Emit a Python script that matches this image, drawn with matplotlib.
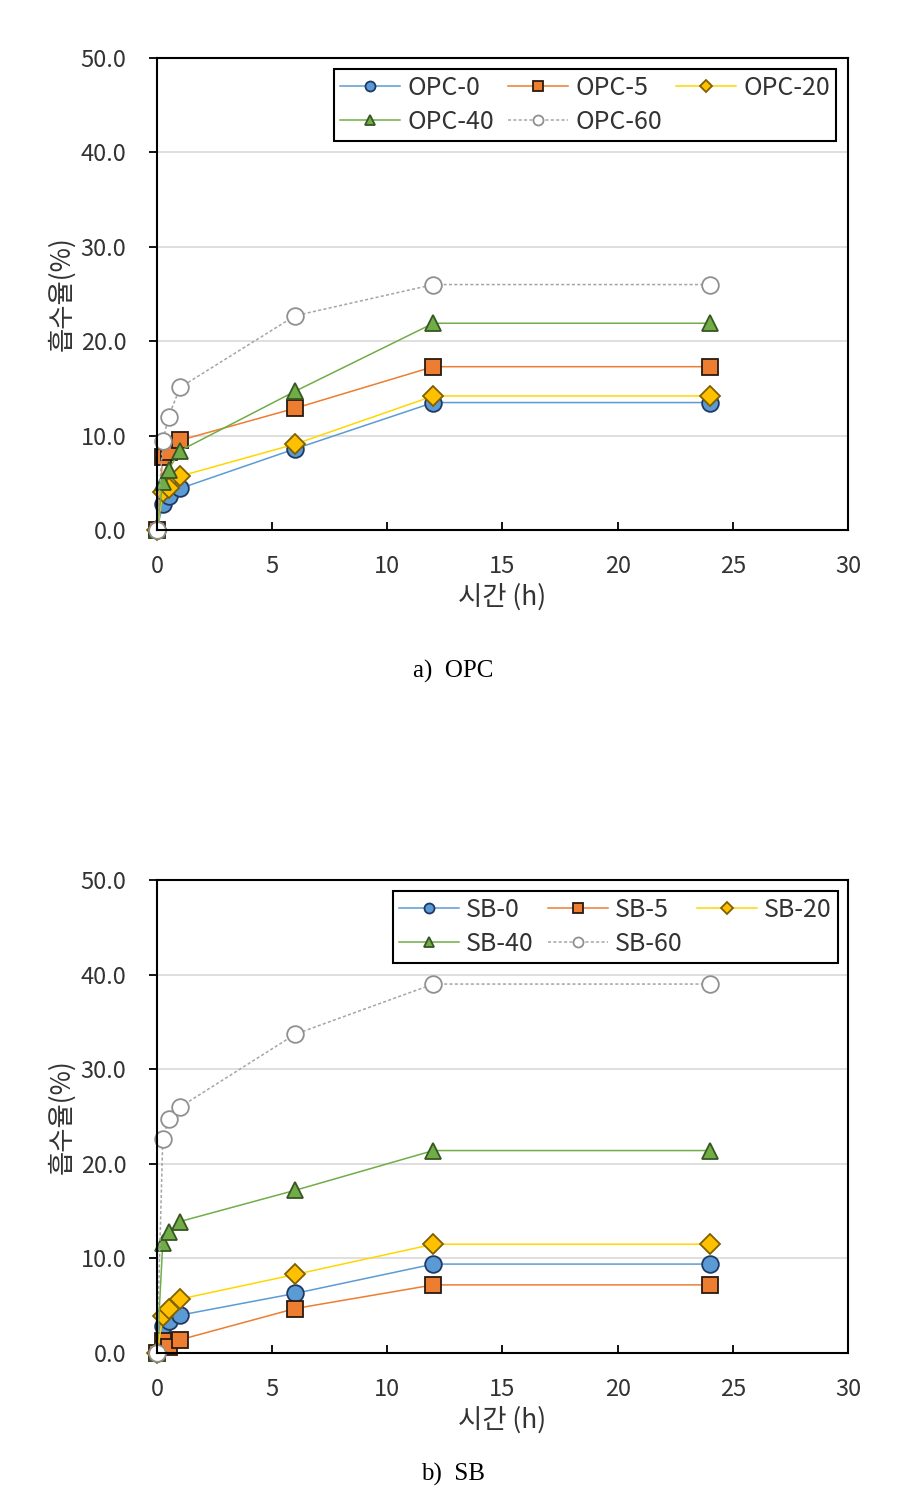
import matplotlib
matplotlib.use("Agg")
import matplotlib.pyplot as plt

plt.rcParams['font.family'] = ['Noto Sans CJK KR', 'DejaVu Sans']

times = [0, 0.25, 0.5, 1, 6, 12, 24]

opc_labels = ['OPC-0', 'OPC-5', 'OPC-20', 'OPC-40', 'OPC-60']
opc_0 = [0, 2.8, 3.6, 4.4, 8.6, 13.5, 13.5]
opc_5 = [0, 7.7, 8.3, 9.5, 12.9, 17.3, 17.3]
opc_20 = [0, 4.0, 4.5, 5.7, 9.1, 14.2, 14.2]
opc_40 = [0, 5.1, 6.4, 8.4, 14.7, 21.9, 21.9]
opc_60 = [0, 9.4, 12.0, 15.1, 22.7, 26.0, 26.0]

sb_labels = ['SB-0', 'SB-5', 'SB-20', 'SB-40', 'SB-60']
sb_0 = [0, 2.9, 3.4, 4.0, 6.3, 9.4, 9.4]
sb_5 = [0, 1.3, 0.6, 1.4, 4.7, 7.2, 7.2]
sb_20 = [0, 3.9, 4.6, 5.7, 8.3, 11.5, 11.5]
sb_40 = [0, 11.6, 12.8, 13.9, 17.2, 21.4, 21.4]
sb_60 = [0, 22.6, 24.7, 26.0, 33.7, 39.0, 39.0]

x_ticks = [0, 5, 10, 15, 20, 25, 30]
y_ticks = [0, 10, 20, 30, 40, 50]
x_label = '시간 (h)'
y_label = '흡수율(%)'

styles = [
    dict(color='#5B9BD5', marker='o', mfc='#5B9BD5', mec='#1F3864', ls='-', ms=12),
    dict(color='#ED7D31', marker='s', mfc='#ED7D31', mec='#2a1a10', ls='-', ms=11),
    dict(color='#FFD700', marker='D', mfc='#FFC000', mec='#7F6000', ls='-', ms=10),
    dict(color='#70AD47', marker='^', mfc='#70AD47', mec='#375623', ls='-', ms=12),
    dict(color='#A5A5A5', marker='o', mfc='white', mec='#909090', ls=(0, (2, 1.5)), ms=12),
]

fig = plt.figure(figsize=(9.08, 14.97), dpi=100)
W, H = 908, 1497


def make_axes(top_px, bottom_px):
    left, right = 157, 848
    return fig.add_axes([left / W, 1 - bottom_px / H, (right - left) / W, (bottom_px - top_px) / H])


def draw(ax, series, labels, legend_box):
    handles = []
    for ys, lab, st in zip(series, labels, styles):
        h, = ax.plot(times, ys, color=st['color'], marker=st['marker'], mfc=st['mfc'],
                     mec=st['mec'], mew=1.3, ms=st['ms'], ls=st['ls'], lw=1.1, label=lab)
        handles.append(h)
    ax.set_xlim(0, 30)
    ax.set_ylim(0, 50)
    ax.set_xticks(x_ticks)
    ax.set_yticks(y_ticks)
    ax.set_yticklabels([f'{v:.1f}' for v in y_ticks])
    ax.set_xticklabels([str(v) for v in x_ticks])
    ax.yaxis.grid(True, color='#D9D9D9', lw=1.2)
    ax.set_axisbelow(True)
    for sp in ax.spines.values():
        sp.set_color('black')
        sp.set_linewidth(1.5)
    ax.tick_params(axis='x', direction='in', length=6, width=1.3, labelsize=17, pad=18, colors='black')
    ax.tick_params(axis='y', direction='out', length=6, width=1.3, labelsize=17, pad=16)
    for lab in ax.get_xticklabels() + ax.get_yticklabels():
        lab.set_color('#333333')
    ax.set_xlabel(x_label, fontsize=19, color='#333333', labelpad=4)
    ax.set_ylabel(y_label, fontsize=19, color='#333333', labelpad=4)
    for line in handles:
        line.set_clip_on(False)
    order = [0, 3, 1, 4, 2]
    leg = ax.legend([handles[i] for i in order], [labels[i] for i in order], ncol=3,
                    loc='upper right', bbox_to_anchor=legend_box, fontsize=18,
                    frameon=True, fancybox=False, edgecolor='black', framealpha=1,
                    markerscale=0.6, handlelength=2.4, handletextpad=0.3,
                    columnspacing=0.55, borderpad=0.25, labelspacing=0.32,
                    borderaxespad=0)
    leg.get_frame().set_linewidth(1.5)
    for t in leg.get_texts():
        t.set_color('#333333')


ax1 = make_axes(58, 530)
draw(ax1, [opc_0, opc_5, opc_20, opc_40, opc_60], opc_labels, (0.983, 0.977))
ax2 = make_axes(880, 1353)
draw(ax2, [sb_0, sb_5, sb_20, sb_40, sb_60], sb_labels, (0.986, 0.977))

fig.text(453 / W, 1 - 671 / H, 'a)  OPC', ha='center', va='center', fontsize=18,
         family=['Liberation Serif', 'DejaVu Serif'])
fig.text(453 / W, 1 - 1474 / H, 'b)  SB', ha='center', va='center', fontsize=18,
         family=['Liberation Serif', 'DejaVu Serif'])

fig.savefig('out.png', dpi=100)
